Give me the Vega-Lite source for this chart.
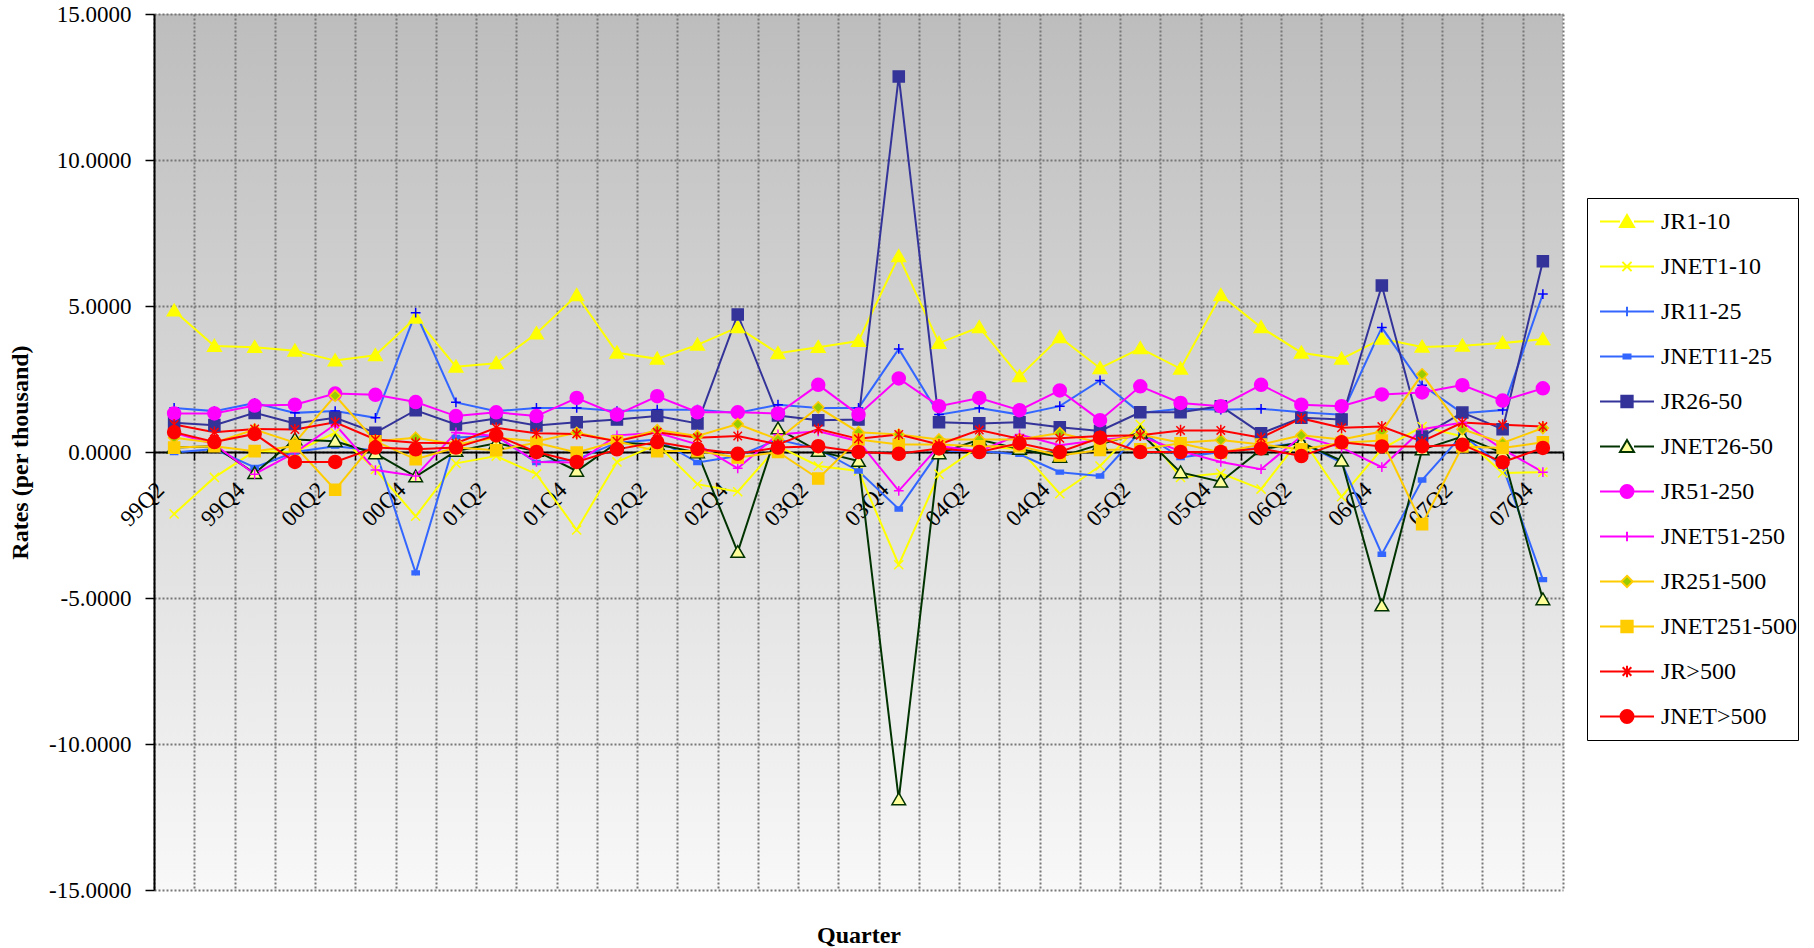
{
  "$schema": "https://vega.github.io/schema/vega-lite/v6.json",
  "width": 1409,
  "height": 876,
  "autosize": "none",
  "padding": {"left": 154, "top": 14, "right": 251, "bottom": 58},
  "background": "white",
  "view": {
    "stroke": null,
    "fill": {"gradient": "linear", "x1": 0, "y1": 0, "x2": 0, "y2": 1,
      "stops": [{"offset": 0, "color": "#bdbdbd"}, {"offset": 1, "color": "#f8f8f8"}]}
  },
  "datasets": {
    "rates": [
      {"q": "99Q2", "JR1-10": 4.84, "JNET1-10": -2.12, "JR11-25": 1.51, "JNET11-25": -0.02, "JR26-50": 1.0, "JNET26-50": 0.15, "JR51-250": 1.32, "JNET51-250": 0.66, "JR251-500": 0.49, "JNET251-500": 0.15, "JR>500": 0.94, "JNET>500": 0.68},
      {"q": "99Q3", "JR1-10": 3.63, "JNET1-10": -0.87, "JR11-25": 1.4, "JNET11-25": 0.1, "JR26-50": 0.92, "JNET26-50": 0.2, "JR51-250": 1.32, "JNET51-250": 0.26, "JR251-500": 0.32, "JNET251-500": 0.2, "JR>500": 0.68, "JNET>500": 0.34},
      {"q": "99Q4", "JR1-10": 3.59, "JNET1-10": 0.03, "JR11-25": 1.68, "JNET11-25": -0.53, "JR26-50": 1.34, "JNET26-50": -0.73, "JR51-250": 1.59, "JNET51-250": -0.76, "JR251-500": 0.77, "JNET251-500": 0.03, "JR>500": 0.79, "JNET>500": 0.62},
      {"q": "00Q1", "JR1-10": 3.47, "JNET1-10": 0.0, "JR11-25": 1.34, "JNET11-25": 0.0, "JR26-50": 0.98, "JNET26-50": 0.43, "JR51-250": 1.62, "JNET51-250": -0.02, "JR251-500": 0.32, "JNET251-500": 0.2, "JR>500": 0.77, "JNET>500": -0.34},
      {"q": "00Q2", "JR1-10": 3.13, "JNET1-10": 0.66, "JR11-25": 1.4, "JNET11-25": 0.2, "JR26-50": 1.17, "JNET26-50": 0.37, "JR51-250": 2.0, "JNET51-250": 0.94, "JR251-500": 1.93, "JNET251-500": -1.29, "JR>500": 1.02, "JNET>500": -0.34},
      {"q": "00Q3", "JR1-10": 3.31, "JNET1-10": -0.6, "JR11-25": 1.17, "JNET11-25": 0.05, "JR26-50": 0.66, "JNET26-50": -0.05, "JR51-250": 1.96, "JNET51-250": -0.62, "JR251-500": 0.37, "JNET251-500": 0.37, "JR>500": 0.43, "JNET>500": 0.15},
      {"q": "00Q4", "JR1-10": 4.6, "JNET1-10": -2.2, "JR11-25": 4.77, "JNET11-25": -4.14, "JR26-50": 1.43, "JNET26-50": -0.84, "JR51-250": 1.71, "JNET51-250": -0.82, "JR251-500": 0.49, "JNET251-500": -0.25, "JR>500": 0.32, "JNET>500": 0.09},
      {"q": "01Q1", "JR1-10": 2.92, "JNET1-10": -0.39, "JR11-25": 1.7, "JNET11-25": 0.5, "JR26-50": 0.94, "JNET26-50": 0.03, "JR51-250": 1.23, "JNET51-250": 0.67, "JR251-500": 0.26, "JNET251-500": 0.15, "JR>500": 0.3, "JNET>500": 0.15},
      {"q": "01Q2", "JR1-10": 3.04, "JNET1-10": -0.14, "JR11-25": 1.4, "JNET11-25": 0.55, "JR26-50": 1.15, "JNET26-50": 0.3, "JR51-250": 1.36, "JNET51-250": 0.55, "JR251-500": 0.49, "JNET251-500": 0.06, "JR>500": 0.83, "JNET>500": 0.57},
      {"q": "01Q3", "JR1-10": 4.06, "JNET1-10": -0.76, "JR11-25": 1.51, "JNET11-25": -0.36, "JR26-50": 0.91, "JNET26-50": 0.03, "JR51-250": 1.23, "JNET51-250": -0.34, "JR251-500": 0.37, "JNET251-500": 0.32, "JR>500": 0.64, "JNET>500": 0.0},
      {"q": "01Q4", "JR1-10": 5.37, "JNET1-10": -2.67, "JR11-25": 1.51, "JNET11-25": -0.25, "JR26-50": 1.02, "JNET26-50": -0.65, "JR51-250": 1.85, "JNET51-250": -0.36, "JR251-500": 0.66, "JNET251-500": -0.02, "JR>500": 0.62, "JNET>500": -0.34},
      {"q": "02Q1", "JR1-10": 3.4, "JNET1-10": -0.34, "JR11-25": 1.4, "JNET11-25": 0.32, "JR26-50": 1.11, "JNET26-50": 0.32, "JR51-250": 1.28, "JNET51-250": 0.57, "JR251-500": 0.37, "JNET251-500": 0.37, "JR>500": 0.37, "JNET>500": 0.09},
      {"q": "02Q2", "JR1-10": 3.19, "JNET1-10": 0.26, "JR11-25": 1.45, "JNET11-25": 0.43, "JR26-50": 1.23, "JNET26-50": 0.26, "JR51-250": 1.91, "JNET51-250": 0.66, "JR251-500": 0.75, "JNET251-500": 0.03, "JR>500": 0.68, "JNET>500": 0.34},
      {"q": "02Q3", "JR1-10": 3.67, "JNET1-10": -1.1, "JR11-25": 1.45, "JNET11-25": -0.36, "JR26-50": 0.98, "JNET26-50": -0.02, "JR51-250": 1.36, "JNET51-250": 0.26, "JR251-500": 0.55, "JNET251-500": 0.03, "JR>500": 0.49, "JNET>500": 0.11},
      {"q": "02Q4", "JR1-10": 4.27, "JNET1-10": -1.36, "JR11-25": 1.34, "JNET11-25": -0.14, "JR26-50": 4.71, "JNET26-50": -3.43, "JR51-250": 1.36, "JNET51-250": -0.56, "JR251-500": 0.96, "JNET251-500": -0.19, "JR>500": 0.55, "JNET>500": -0.06},
      {"q": "03Q1", "JR1-10": 3.38, "JNET1-10": 0.2, "JR11-25": 1.62, "JNET11-25": 0.43, "JR26-50": 1.25, "JNET26-50": 0.8, "JR51-250": 1.32, "JNET51-250": 0.6, "JR251-500": 0.43, "JNET251-500": 0.0, "JR>500": 0.26, "JNET>500": 0.15},
      {"q": "03Q2", "JR1-10": 3.59, "JNET1-10": -0.48, "JR11-25": 1.51, "JNET11-25": 0.1, "JR26-50": 1.09, "JNET26-50": 0.03, "JR51-250": 2.3, "JNET51-250": 0.71, "JR251-500": 1.53, "JNET251-500": -0.91, "JR>500": 0.79, "JNET>500": 0.2},
      {"q": "03Q3", "JR1-10": 3.8, "JNET1-10": -0.65, "JR11-25": 1.51, "JNET11-25": -0.65, "JR26-50": 1.11, "JNET26-50": -0.31, "JR51-250": 1.28, "JNET51-250": 0.37, "JR251-500": 0.68, "JNET251-500": 0.43, "JR>500": 0.45, "JNET>500": 0.0},
      {"q": "03Q4", "JR1-10": 6.7, "JNET1-10": -3.86, "JR11-25": 3.53, "JNET11-25": -1.95, "JR26-50": 12.86, "JNET26-50": -11.9, "JR51-250": 2.52, "JNET51-250": -1.33, "JR251-500": 0.6, "JNET251-500": 0.26, "JR>500": 0.6, "JNET>500": -0.06},
      {"q": "04Q1", "JR1-10": 3.73, "JNET1-10": -0.76, "JR11-25": 1.28, "JNET11-25": 0.03, "JR26-50": 1.02, "JNET26-50": -0.05, "JR51-250": 1.57, "JNET51-250": 0.2, "JR251-500": 0.43, "JNET251-500": 0.26, "JR>500": 0.26, "JNET>500": 0.12},
      {"q": "04Q2", "JR1-10": 4.27, "JNET1-10": 0.2, "JR11-25": 1.51, "JNET11-25": 0.03, "JR26-50": 0.98, "JNET26-50": 0.43, "JR51-250": 1.85, "JNET51-250": 0.03, "JR251-500": 0.43, "JNET251-500": 0.2, "JR>500": 0.75, "JNET>500": 0.0},
      {"q": "04Q3", "JR1-10": 2.59, "JNET1-10": 0.1, "JR11-25": 1.28, "JNET11-25": -0.08, "JR26-50": 1.02, "JNET26-50": 0.1, "JR51-250": 1.43, "JNET51-250": 0.6, "JR251-500": 0.43, "JNET251-500": 0.2, "JR>500": 0.45, "JNET>500": 0.3},
      {"q": "04Q4", "JR1-10": 3.93, "JNET1-10": -1.43, "JR11-25": 1.57, "JNET11-25": -0.69, "JR26-50": 0.85, "JNET26-50": -0.17, "JR51-250": 2.11, "JNET51-250": 0.23, "JR251-500": 0.65, "JNET251-500": -0.12, "JR>500": 0.47, "JNET>500": 0.0},
      {"q": "05Q1", "JR1-10": 2.87, "JNET1-10": -0.48, "JR11-25": 2.45, "JNET11-25": -0.82, "JR26-50": 0.72, "JNET26-50": 0.26, "JR51-250": 1.09, "JNET51-250": 0.41, "JR251-500": 0.32, "JNET251-500": 0.07, "JR>500": 0.55, "JNET>500": 0.49},
      {"q": "05Q2", "JR1-10": 3.55, "JNET1-10": 0.94, "JR11-25": 1.34, "JNET11-25": 0.7, "JR26-50": 1.36, "JNET26-50": 0.66, "JR51-250": 2.25, "JNET51-250": 0.54, "JR251-500": 0.6, "JNET251-500": 0.09, "JR>500": 0.57, "JNET>500": 0.0},
      {"q": "05Q3", "JR1-10": 2.85, "JNET1-10": -0.87, "JR11-25": 1.48, "JNET11-25": -0.19, "JR26-50": 1.36, "JNET26-50": -0.7, "JR51-250": 1.68, "JNET51-250": 0.03, "JR251-500": 0.32, "JNET251-500": 0.3, "JR>500": 0.74, "JNET>500": 0.0},
      {"q": "05Q4", "JR1-10": 5.37, "JNET1-10": -0.73, "JR11-25": 1.45, "JNET11-25": 0.0, "JR26-50": 1.57, "JNET26-50": -1.02, "JR51-250": 1.57, "JNET51-250": -0.34, "JR251-500": 0.41, "JNET251-500": -0.02, "JR>500": 0.74, "JNET>500": 0.0},
      {"q": "06Q1", "JR1-10": 4.27, "JNET1-10": -1.27, "JR11-25": 1.48, "JNET11-25": 0.15, "JR26-50": 0.64, "JNET26-50": 0.09, "JR51-250": 2.3, "JNET51-250": -0.59, "JR251-500": 0.26, "JNET251-500": 0.26, "JR>500": 0.49, "JNET>500": 0.12},
      {"q": "06Q2", "JR1-10": 3.4, "JNET1-10": 0.49, "JR11-25": 1.36, "JNET11-25": 0.32, "JR26-50": 1.17, "JNET26-50": 0.32, "JR51-250": 1.62, "JNET51-250": 0.54, "JR251-500": 0.57, "JNET251-500": 0.09, "JR>500": 1.15, "JNET>500": -0.14},
      {"q": "06Q3", "JR1-10": 3.19, "JNET1-10": -1.53, "JR11-25": 1.28, "JNET11-25": -0.36, "JR26-50": 1.11, "JNET26-50": -0.3, "JR51-250": 1.57, "JNET51-250": 0.15, "JR251-500": 0.43, "JNET251-500": 0.32, "JR>500": 0.83, "JNET>500": 0.33},
      {"q": "06Q4", "JR1-10": 3.88, "JNET1-10": 0.1, "JR11-25": 4.26, "JNET11-25": -3.5, "JR26-50": 5.7, "JNET26-50": -5.26, "JR51-250": 1.97, "JNET51-250": -0.52, "JR251-500": 0.7, "JNET251-500": 0.39, "JR>500": 0.87, "JNET>500": 0.19},
      {"q": "07Q1", "JR1-10": 3.6, "JNET1-10": 0.87, "JR11-25": 2.29, "JNET11-25": -0.96, "JR26-50": 0.53, "JNET26-50": 0.08, "JR51-250": 2.04, "JNET51-250": 0.78, "JR251-500": 2.66, "JNET251-500": -2.47, "JR>500": 0.36, "JNET>500": 0.19},
      {"q": "07Q2", "JR1-10": 3.64, "JNET1-10": 0.53, "JR11-25": 1.33, "JNET11-25": 0.59, "JR26-50": 1.35, "JNET26-50": 0.53, "JR51-250": 2.29, "JNET51-250": 1.01, "JR251-500": 0.78, "JNET251-500": 0.19, "JR>500": 1.01, "JNET>500": 0.25},
      {"q": "07Q3", "JR1-10": 3.73, "JNET1-10": -0.72, "JR11-25": 1.44, "JNET11-25": -0.49, "JR26-50": 0.78, "JNET26-50": -0.03, "JR51-250": 1.76, "JNET51-250": 0.1, "JR251-500": 0.31, "JNET251-500": 0.14, "JR>500": 0.93, "JNET>500": -0.35},
      {"q": "07Q4", "JR1-10": 3.86, "JNET1-10": -0.69, "JR11-25": 5.41, "JNET11-25": -4.37, "JR26-50": 6.53, "JNET26-50": -5.05, "JR51-250": 2.18, "JNET51-250": -0.69, "JR251-500": 0.82, "JNET251-500": 0.33, "JR>500": 0.87, "JNET>500": 0.14}
    ]
  },
  "data": {"name": "rates"},
  "transform": [
    {"fold": ["JR1-10", "JNET1-10", "JR11-25", "JNET11-25", "JR26-50", "JNET26-50", "JR51-250", "JNET51-250", "JR251-500", "JNET251-500", "JR>500", "JNET>500"], "as": ["series", "value"]}
  ],
  "encoding": {
    "x": {
      "field": "q", "type": "ordinal",
      "sort": ["99Q2","99Q3","99Q4","00Q1","00Q2","00Q3","00Q4","01Q1","01Q2","01Q3","01Q4","02Q1","02Q2","02Q3","02Q4","03Q1","03Q2","03Q3","03Q4","04Q1","04Q2","04Q3","04Q4","05Q1","05Q2","05Q3","05Q4","06Q1","06Q2","06Q3","06Q4","07Q1","07Q2","07Q3","07Q4"],
      "scale": {"type": "band", "paddingInner": 0, "paddingOuter": 0},
      "bandPosition": 0.5,
      "axis": {
        "title": "Quarter",
        "titleFont": "Liberation Serif", "titleFontSize": 24, "titleFontWeight": "bold", "titleColor": "black",
        "titleY": 490, "titleBaseline": "alphabetic",
        "offset": -438,
        "labelAngle": -45, "labelAlign": "right", "labelBaseline": "middle",
        "labelExpr": "test(/Q[24]$/, datum.value) ? datum.value : ''",
        "labelFont": "Liberation Serif", "labelFontSize": 23, "labelColor": "black",
        "labelPadding": 26, "labelOffset": -14, "labelOverlap": false, "labelFlush": false,
        "tickBand": "extent", "tickSize": 8, "tickColor": "black", "tickWidth": 1.5,
        "domainColor": "black", "domainWidth": 2,
        "grid": true, "gridColor": "#777777", "gridDash": [2, 2], "gridWidth": 2
      }
    },
    "y": {
      "field": "value", "type": "quantitative",
      "scale": {"domain": [-15, 15], "nice": false, "zero": false},
      "axis": {
        "title": "Rates (per thousand)",
        "titleFont": "Liberation Serif", "titleFontSize": 24, "titleFontWeight": "bold", "titleColor": "black",
        "titlePadding": 16,
        "values": [-15, -10, -5, 0, 5, 10, 15],
        "labelExpr": "replace(format(datum.value, '.4f'), '\u2212', '-')",
        "labelFont": "Liberation Serif", "labelFontSize": 23, "labelColor": "black",
        "labelPadding": 14,
        "tickSize": 9, "tickColor": "black", "tickWidth": 1.5,
        "domainColor": "black", "domainWidth": 2,
        "grid": true, "gridColor": "#777777", "gridDash": [2, 2], "gridWidth": 2
      }
    }
  },
  "layer": [
    {
      "mark": {"type": "line", "strokeWidth": 2},
      "encoding": {
        "color": {
          "field": "series", "type": "nominal", "legend": null,
          "scale": {
            "domain": ["JR1-10", "JNET1-10", "JR11-25", "JNET11-25", "JR26-50", "JNET26-50", "JR51-250", "JNET51-250", "JR251-500", "JNET251-500", "JR>500", "JNET>500"],
            "range": ["#ffff00", "#ffff00", "#3366ff", "#3366ff", "#333399", "#003300", "#ff00ff", "#ff00ff", "#ffcc00", "#ffcc00", "#ff0000", "#ff0000"]
          }
        }
      }
    },
    {
      "mark": {"type": "point", "size": 169, "strokeWidth": 1.5, "opacity": 1},
      "encoding": {
        "shape": {
          "field": "series", "type": "nominal", "legend": null,
          "scale": {
            "domain": ["JR1-10", "JNET1-10", "JR11-25", "JNET11-25", "JR26-50", "JNET26-50", "JR51-250", "JNET51-250", "JR251-500", "JNET251-500", "JR>500", "JNET>500"],
            "range": [
              "M0,-1L1.05,0.8L-1.05,0.8Z",
              "M-0.7,-0.7L0.7,0.7M-0.7,0.7L0.7,-0.7",
              "M-0.75,0H0.75M0,-0.75V0.75",
              "M-0.55,-0.3H0.55V0.3H-0.55Z",
              "M-0.85,-0.85H0.85V0.85H-0.85Z",
              "M0,-1L1.05,0.8L-1.05,0.8Z",
              "circle",
              "M-0.75,0H0.75M0,-0.75V0.75",
              "M0,-0.85L0.85,0L0,0.85L-0.85,0Z",
              "M-0.85,-0.85H0.85V0.85H-0.85Z",
              "M-0.65,-0.65L0.65,0.65M-0.65,0.65L0.65,-0.65M0,-0.85V0.85",
              "circle"
            ]
          }
        },
        "fill": {
          "field": "series", "type": "nominal", "legend": null,
          "scale": {
            "domain": ["JR1-10", "JNET1-10", "JR11-25", "JNET11-25", "JR26-50", "JNET26-50", "JR51-250", "JNET51-250", "JR251-500", "JNET251-500", "JR>500", "JNET>500"],
            "range": ["#ffff00", "transparent", "transparent", "#3366ff", "#333399", "#ffff99", "#ff00ff", "transparent", "#99cc00", "#ffcc00", "transparent", "#ff0000"]
          }
        },
        "stroke": {
          "field": "series", "type": "nominal", "legend": null,
          "scale": {
            "domain": ["JR1-10", "JNET1-10", "JR11-25", "JNET11-25", "JR26-50", "JNET26-50", "JR51-250", "JNET51-250", "JR251-500", "JNET251-500", "JR>500", "JNET>500"],
            "range": ["#ffff00", "#ffff00", "#0000ff", "#3366ff", "#333399", "#003300", "#ff00ff", "#ff00ff", "#ffcc00", "#ffcc00", "#ff0000", "#ff0000"]
          }
        }
      }
    },
    {
      "transform": [{"filter": "false"}],
      "mark": {"type": "point", "opacity": 1},
      "encoding": {
        "shape": {
          "field": "series", "type": "nominal",
          "scale": {
            "domain": ["JR1-10", "JNET1-10", "JR11-25", "JNET11-25", "JR26-50", "JNET26-50", "JR51-250", "JNET51-250", "JR251-500", "JNET251-500", "JR>500", "JNET>500"],
            "range": [
              "M-1,0H-0.26M0.26,0H1M0,-0.24L0.26,0.2L-0.26,0.2Z",
              "M-1,0H1M-0.17,-0.17L0.17,0.17M-0.17,0.17L0.17,-0.17",
              "M-1,0H1M0,-0.18V0.18",
              "M-1,0H-0.13M0.13,0H1M-0.13,-0.07H0.13V0.07H-0.13Z",
              "M-1,0H-0.21M0.21,0H1M-0.21,-0.21H0.21V0.21H-0.21Z",
              "M-1,0H-0.26M0.26,0H1M0,-0.24L0.26,0.2L-0.26,0.2Z",
              "M-1,0H-0.24M0.24,0H1M-0.24,0A0.24,0.24,0,1,0,0.24,0A0.24,0.24,0,1,0,-0.24,0Z",
              "M-1,0H1M0,-0.18V0.18",
              "M-1,0H-0.21M0.21,0H1M0,-0.21L0.21,0L0,0.21L-0.21,0Z",
              "M-1,0H-0.21M0.21,0H1M-0.21,-0.21H0.21V0.21H-0.21Z",
              "M-1,0H1M-0.16,-0.16L0.16,0.16M-0.16,0.16L0.16,-0.16M0,-0.21V0.21",
              "M-1,0H-0.24M0.24,0H1M-0.24,0A0.24,0.24,0,1,0,0.24,0A0.24,0.24,0,1,0,-0.24,0Z"
            ]
          },
          "legend": {
            "title": null, "orient": "none", "legendX": 1433, "legendY": 184,
            "padding": 1, "strokeColor": "black", "fillColor": "white",
            "symbolSize": 2916, "symbolStrokeWidth": 2, "symbolOffset": 11,
            "labelOffset": 6, "labelFont": "Liberation Serif", "labelFontSize": 24, "labelColor": "black", "labelLimit": 300,
            "clipHeight": 45, "rowPadding": 0
          }
        },
        "fill": {
          "field": "series", "type": "nominal",
          "scale": {
            "domain": ["JR1-10", "JNET1-10", "JR11-25", "JNET11-25", "JR26-50", "JNET26-50", "JR51-250", "JNET51-250", "JR251-500", "JNET251-500", "JR>500", "JNET>500"],
            "range": ["#ffff00", "transparent", "transparent", "#3366ff", "#333399", "#ffff99", "#ff00ff", "transparent", "#99cc00", "#ffcc00", "transparent", "#ff0000"]
          },
          "legend": {
            "title": null, "orient": "none", "legendX": 1433, "legendY": 184,
            "padding": 1, "strokeColor": "black", "fillColor": "white",
            "symbolSize": 2916, "symbolStrokeWidth": 2, "symbolOffset": 11,
            "labelOffset": 6, "labelFont": "Liberation Serif", "labelFontSize": 24, "labelColor": "black", "labelLimit": 300,
            "clipHeight": 45, "rowPadding": 0
          }
        },
        "stroke": {
          "field": "series", "type": "nominal",
          "scale": {
            "domain": ["JR1-10", "JNET1-10", "JR11-25", "JNET11-25", "JR26-50", "JNET26-50", "JR51-250", "JNET51-250", "JR251-500", "JNET251-500", "JR>500", "JNET>500"],
            "range": ["#ffff00", "#ffff00", "#3366ff", "#3366ff", "#333399", "#003300", "#ff00ff", "#ff00ff", "#ffcc00", "#ffcc00", "#ff0000", "#ff0000"]
          },
          "legend": {
            "title": null, "orient": "none", "legendX": 1433, "legendY": 184,
            "padding": 1, "strokeColor": "black", "fillColor": "white",
            "symbolSize": 2916, "symbolStrokeWidth": 2, "symbolOffset": 11,
            "labelOffset": 6, "labelFont": "Liberation Serif", "labelFontSize": 24, "labelColor": "black", "labelLimit": 300,
            "clipHeight": 45, "rowPadding": 0
          }
        }
      }
    }
  ],
  "resolve": {"scale": {"shape": "independent", "fill": "independent", "stroke": "independent"}},
  "config": {
    "font": "Liberation Serif",
    "view": {"stroke": null}
  }
}
